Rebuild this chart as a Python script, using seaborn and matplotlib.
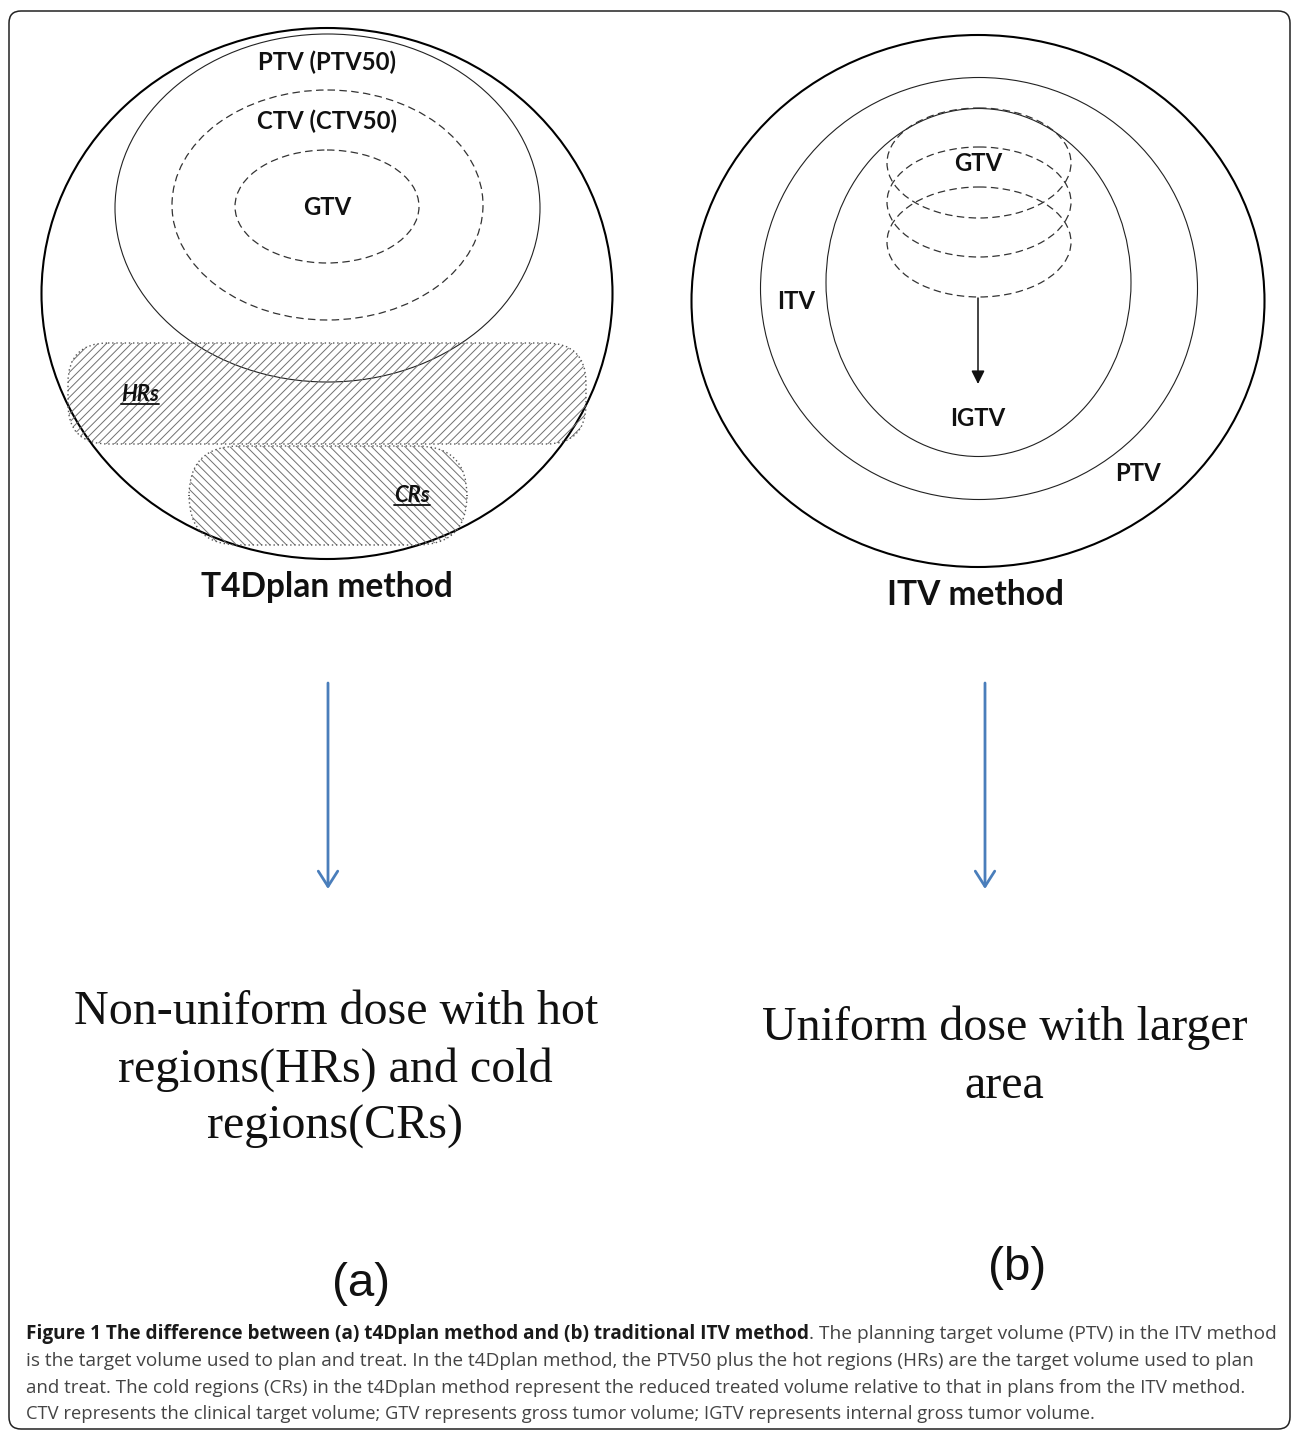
import matplotlib
matplotlib.use("Agg")
import matplotlib.pyplot as plt
import seaborn as sns
from matplotlib.patches import Ellipse, FancyBboxPatch, FancyArrowPatch
from matplotlib import font_manager

sns.set_theme(style="white")
plt.rcParams["font.family"] = ["Lato", "DejaVu Sans"]
plt.rcParams["hatch.linewidth"] = 0.7

# ---------------- text content ----------------
left_labels = ["PTV (PTV50)", "CTV (CTV50)", "GTV"]
right_labels = ["GTV", "ITV", "IGTV", "PTV"]
region_labels = ["HRs", "CRs"]
method_titles = ["T4Dplan method", "ITV method"]
outcome_a = ["Non-uniform dose with hot", "regions(HRs) and cold", "regions(CRs)"]
outcome_b = ["Uniform dose with larger", "area"]
panel_tags = ["(a)", "(b)"]
caption_bold = "Figure 1 The difference between (a) t4Dplan method and (b) traditional ITV method"
caption_rest = [
    ". The planning target volume (PTV) in the ITV method",
    "is the target volume used to plan and treat. In the t4Dplan method, the PTV50 plus the hot regions (HRs) are the target volume used to plan",
    "and treat. The cold regions (CRs) in the t4Dplan method represent the reduced treated volume relative to that in plans from the ITV method.",
    "CTV represents the clinical target volume; GTV represents gross tumor volume; IGTV represents internal gross tumor volume.",
]

W, H = 1293, 1433
fig = plt.figure(figsize=(W / 100, H / 100), dpi=100)
ax = fig.add_axes([0, 0, 1, 1])
ax.set_xlim(0, W)
ax.set_ylim(H, 0)
ax.axis("off")
renderer = fig.canvas.get_renderer()

names = {f.name for f in font_manager.fontManager.ttflist}
cap_family = "Liberation Sans Narrow" if "Liberation Sans Narrow" in names else "Open Sans"


def width_of(t):
    return t.get_window_extent(renderer).width


def fit(t, target):
    for _ in range(3):
        t.set_fontsize(t.get_fontsize() * target / width_of(t))
    return t.get_fontsize()


def label(x, y, s, size, **kw):
    kw.setdefault("ha", "center")
    kw.setdefault("va", "center")
    return ax.text(x, y, s, fontsize=size, **kw)


# ---------------- border ----------------
ax.add_patch(FancyBboxPatch((9, 11), 1281, 1418, boxstyle="round,pad=0,rounding_size=12",
                            fill=False, ec="#222222", lw=1.1))

DASH = (0, (6, 3.5))

# ---------------- left diagram (T4Dplan) ----------------
ax.add_patch(Ellipse((327, 293.5), 571, 531, fill=False, ec="black", lw=1.5))
ax.add_patch(Ellipse((327.5, 208), 425, 348, fill=False, ec="#222222", lw=0.8))
ax.add_patch(Ellipse((327.5, 205), 311, 230, fill=False, ec="#333333", lw=0.9, ls=DASH))
ax.add_patch(Ellipse((327, 206.5), 184, 113, fill=False, ec="#333333", lw=0.9, ls=DASH))

# hot / cold regions
for (x0, y0, x1, y1, r, hatch) in [(68, 343, 586, 444, 40, "////"), (189, 446, 467, 545, 50, "\\\\\\\\")]:
    ax.add_patch(FancyBboxPatch((x0, y0), x1 - x0, y1 - y0,
                                boxstyle=f"round,pad=0,rounding_size={r}",
                                fc="none", ec="#707070", lw=0, hatch=hatch))
    ax.add_patch(FancyBboxPatch((x0, y0), x1 - x0, y1 - y0,
                                boxstyle=f"round,pad=0,rounding_size={r}",
                                fill=False, ec="#555555", lw=1.0, ls=(0, (1, 2))))

# label sizes
t = label(327, 62, left_labels[0], 20, fontweight="bold", color="#111111")
small = fit(t, 138)
label(327, 121, left_labels[1], small, fontweight="bold", color="#111111")
label(327, 207, left_labels[2], small, fontweight="bold", color="#111111")

inv = ax.transData.inverted()
for s, (x, y) in zip(region_labels, [(140, 394), (412, 495)]):
    tt = label(x, y, s, small * 0.92, fontweight="bold", fontstyle="italic", color="#111111")
    bb = tt.get_window_extent(renderer)
    (xa, ya), (xb, yb) = inv.transform([(bb.x0, bb.y0), (bb.x1, bb.y0)])
    ax.plot([xa, xb], [ya - 1, yb - 1], color="#111111", lw=1.3)

t = label(327, 587, method_titles[0], 24, fontweight="bold", color="#111111")
big = fit(t, 252)

# ---------------- right diagram (ITV) ----------------
ax.add_patch(Ellipse((978, 301), 573, 532, fill=False, ec="black", lw=1.5))
ax.add_patch(Ellipse((979, 288.5), 437, 422, fill=False, ec="#222222", lw=0.8))
ax.add_patch(Ellipse((978.5, 282.5), 305, 348, fill=False, ec="#222222", lw=0.8))
for cy in [163, 202, 242]:
    ax.add_patch(Ellipse((979, cy), 184, 110, fill=False, ec="#333333", lw=0.9, ls=DASH))

ax.add_patch(FancyArrowPatch((978, 298), (978, 384), arrowstyle="-|>,head_length=8,head_width=4",
                             color="#111111", lw=1.1, shrinkA=0, shrinkB=0, mutation_scale=1))

label(978, 163, right_labels[0], small, fontweight="bold", color="#111111")
label(796, 301, right_labels[1], small, fontweight="bold", color="#111111")
label(978, 418, right_labels[2], small, fontweight="bold", color="#111111")
label(1138, 473, right_labels[3], small, fontweight="bold", color="#111111")
label(975, 595, method_titles[1], big, fontweight="bold", color="#111111")

# ---------------- blue arrows ----------------
for x in [328, 985]:
    ax.add_patch(FancyArrowPatch((x, 683), (x, 889), arrowstyle="->,head_length=11,head_width=7",
                                 color="#4a7ebb", lw=2.0, shrinkA=0, shrinkB=0, mutation_scale=1))

# ---------------- outcome texts ----------------
t = label(336, 1012, outcome_a[0], 36, family="Liberation Serif", color="#111111")
serif = fit(t, 524)
label(335, 1070, outcome_a[1], serif, family="Liberation Serif", color="#111111")
label(335.5, 1127, outcome_a[2], serif, family="Liberation Serif", color="#111111")
label(1004.5, 1028, outcome_b[0], serif, family="Liberation Serif", color="#111111")
label(1004, 1086, outcome_b[1], serif, family="Liberation Serif", color="#111111")

t = label(361, 1284, panel_tags[0], 30, family="Liberation Sans", color="#111111")
tag = fit(t, 58)
label(1017, 1268, panel_tags[1], tag, family="Liberation Sans", color="#111111")

# ---------------- caption ----------------
cap_y = [1334, 1361, 1388, 1414]
cap_widths = [1226, 1225, 1072]
tb = ax.text(26, cap_y[0], caption_bold, fontsize=12, family=cap_family, fontweight="bold",
             color="#1a1a1a", ha="left", va="center")
fit(tb, 786)
tr = ax.text(26 + width_of(tb), cap_y[0], caption_rest[0], fontsize=12, family=cap_family,
             color="#444444", ha="left", va="center")
fit(tr, 1278 - 26 - width_of(tb))
for s, y, w in zip(caption_rest[1:], cap_y[1:], cap_widths):
    tl = ax.text(26, y, s, fontsize=12, family=cap_family, color="#444444", ha="left", va="center")
    fit(tl, w)

fig.savefig("out.png", dpi=100)
